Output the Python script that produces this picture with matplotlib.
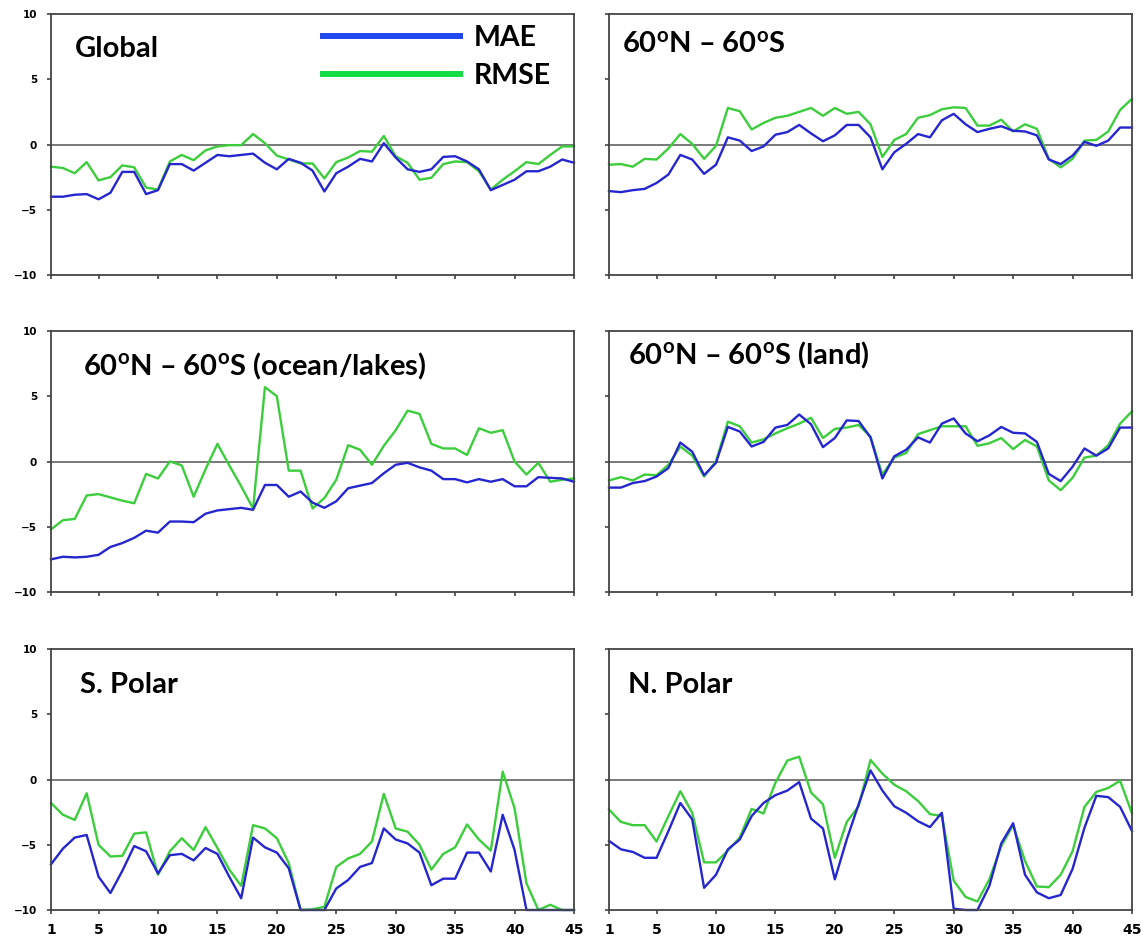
import numpy as np
import matplotlib
matplotlib.use("Agg")
import matplotlib.pyplot as plt
from matplotlib.lines import Line2D

# forecast day on the x axis
days = np.arange(1, 46)
x_ticks = [1, 5, 10, 15, 20, 25, 30, 35, 40, 45]
y_ticks = [-10, -5, 0, 5, 10]

global_mae = [-4.0, -4.0, -3.85, -3.8, -4.2, -3.7, -2.1, -2.1, -3.8, -3.5,
              -1.5, -1.5, -2.0, -1.4, -0.8, -0.9, -0.8, -0.7, -1.4, -1.9,
              -1.1, -1.4, -2.0, -3.6, -2.2, -1.7, -1.1, -1.3, 0.1, -1.0,
              -1.9, -2.1, -1.9, -0.95, -0.9, -1.3, -1.9, -3.5, -3.1, -2.7,
              -2.05, -2.05, -1.7, -1.15, -1.4]
global_rmse = [-1.7, -1.8, -2.2, -1.35, -2.75, -2.5, -1.6, -1.75, -3.3, -3.45,
               -1.3, -0.8, -1.2, -0.45, -0.15, -0.05, -0.05, 0.8, 0.1, -0.85,
               -1.15, -1.45, -1.45, -2.6, -1.35, -1.0, -0.5, -0.55, 0.65, -0.9,
               -1.4, -2.7, -2.55, -1.5, -1.3, -1.35, -2.05, -3.45, -2.7, -2.05,
               -1.35, -1.5, -0.8, -0.15, -0.15]

tropics_mae = [-3.57, -3.65, -3.5, -3.4, -2.95, -2.3, -0.8, -1.15, -2.25, -1.55,
               0.55, 0.3, -0.5, -0.15, 0.75, 0.95, 1.5, 0.85, 0.25, 0.7,
               1.5, 1.5, 0.55, -1.9, -0.6, 0.05, 0.8, 0.55, 1.85, 2.35,
               1.55, 0.95, 1.2, 1.4, 1.05, 1.0, 0.7, -1.15, -1.5, -0.85,
               0.2, -0.1, 0.3, 1.3, 1.3]
tropics_rmse = [-1.55, -1.5, -1.7, -1.1, -1.15, -0.3, 0.8, 0.05, -1.1, -0.1,
                2.8, 2.55, 1.15, 1.65, 2.05, 2.2, 2.5, 2.8, 2.2, 2.8,
                2.35, 2.5, 1.55, -0.95, 0.35, 0.8, 2.05, 2.25, 2.7, 2.85,
                2.8, 1.45, 1.45, 1.9, 1.0, 1.55, 1.2, -1.1, -1.75, -1.1,
                0.3, 0.35, 1.0, 2.65, 3.5]

ocean_mae = [-7.5, -7.3, -7.35, -7.3, -7.15, -6.55, -6.25, -5.85, -5.3, -5.45,
             -4.6, -4.6, -4.65, -4.0, -3.75, -3.65, -3.55, -3.7, -1.8, -1.8,
             -2.7, -2.3, -3.15, -3.55, -3.05, -2.05, -1.85, -1.65, -0.9, -0.25,
             -0.1, -0.45, -0.7, -1.35, -1.35, -1.6, -1.35, -1.55, -1.35, -1.9,
             -1.9, -1.2, -1.25, -1.3, -1.55]
ocean_rmse = [-5.2, -4.5, -4.4, -2.6, -2.5, -2.75, -3.0, -3.2, -0.95, -1.3,
              0.0, -0.3, -2.7, -0.6, 1.35, -0.3, -1.9, -3.6, 5.7, 5.0,
              -0.7, -0.7, -3.6, -2.8, -1.4, 1.25, 0.9, -0.25, 1.2, 2.4,
              3.9, 3.65, 1.35, 1.0, 1.0, 0.5, 2.55, 2.2, 2.4, 0.0,
              -1.0, -0.1, -1.55, -1.4, -1.3]

land_mae = [-2.0, -2.0, -1.65, -1.5, -1.15, -0.5, 1.45, 0.75, -1.05, -0.1,
            2.65, 2.3, 1.15, 1.5, 2.6, 2.8, 3.6, 2.85, 1.1, 1.8,
            3.15, 3.1, 1.85, -1.3, 0.4, 0.9, 1.85, 1.45, 2.9, 3.3,
            2.15, 1.55, 2.0, 2.65, 2.2, 2.15, 1.5, -0.95, -1.5, -0.4,
            1.0, 0.45, 1.0, 2.6, 2.6]
land_rmse = [-1.45, -1.2, -1.45, -1.0, -1.05, -0.25, 1.15, 0.45, -1.15, 0.0,
             3.05, 2.7, 1.45, 1.7, 2.15, 2.55, 2.9, 3.35, 1.8, 2.5,
             2.6, 2.8, 1.9, -1.0, 0.3, 0.65, 2.1, 2.4, 2.7, 2.7,
             2.7, 1.2, 1.4, 1.8, 0.95, 1.65, 1.15, -1.45, -2.2, -1.25,
             0.3, 0.45, 1.25, 2.9, 3.85]

spolar_mae = [-6.5, -5.3, -4.45, -4.25, -7.45, -8.7, -7.0, -5.1, -5.5, -7.2,
              -5.8, -5.7, -6.2, -5.25, -5.7, -7.45, -9.1, -4.45, -5.2, -5.6,
              -6.8, -10.0, -10.0, -10.0, -8.35, -7.7, -6.7, -6.4, -3.75, -4.6,
              -4.9, -5.6, -8.1, -7.6, -7.6, -5.6, -5.6, -7.05, -2.7, -5.4,
              -10.0, -10.0, -10.0, -10.0, -10.0]
spolar_rmse = [-1.8, -2.7, -3.1, -1.05, -5.0, -5.9, -5.85, -4.15, -4.05, -7.3,
               -5.5, -4.5, -5.4, -3.65, -5.25, -6.9, -8.15, -3.5, -3.75, -4.5,
               -6.4, -10.0, -9.95, -9.75, -6.7, -6.05, -5.7, -4.75, -1.1, -3.75,
               -4.0, -5.0, -6.9, -5.7, -5.2, -3.45, -4.6, -5.45, 0.6, -2.2,
               -7.95, -10.0, -9.6, -10.0, -10.0]

npolar_mae = [-4.7, -5.35, -5.55, -6.0, -6.0, -3.95, -1.8, -3.05, -8.3, -7.3,
              -5.35, -4.6, -2.8, -1.8, -1.2, -0.85, -0.2, -3.0, -3.75, -7.65,
              -4.6, -1.9, 0.7, -0.85, -2.05, -2.55, -3.2, -3.65, -2.55, -9.9,
              -10.0, -10.0, -8.15, -4.9, -3.35, -7.3, -8.65, -9.1, -8.85, -6.85,
              -3.7, -1.25, -1.35, -2.1, -3.95]
npolar_rmse = [-2.3, -3.25, -3.5, -3.5, -4.75, -2.8, -0.9, -2.55, -6.35, -6.35,
               -5.45, -4.45, -2.25, -2.6, -0.25, 1.45, 1.75, -1.0, -1.9, -6.0,
               -3.25, -2.05, 1.5, 0.45, -0.4, -0.9, -1.65, -2.65, -2.8, -7.75,
               -9.0, -9.35, -7.65, -5.1, -3.5, -6.25, -8.2, -8.25, -7.3, -5.5,
               -2.1, -0.95, -0.65, -0.1, -2.6]

titles = ["Global",
          "60$^{o}$N \u2013 60$^{o}$S",
          "60$^{o}$N \u2013 60$^{o}$S (ocean/lakes)",
          "60$^{o}$N \u2013 60$^{o}$S (land)",
          "S. Polar",
          "N. Polar"]

MAE_COLOR = "#2626cf"
RMSE_COLOR = "#3ccd3c"
TITLE_FONT = ["Lato", "DejaVu Sans"]


def setup_fonts():
    """Bold humanist font for the panel titles, superscripts included."""
    plt.rcParams["mathtext.fontset"] = "custom"
    plt.rcParams["mathtext.rm"] = "Lato:bold"
    plt.rcParams["mathtext.it"] = "Lato:bold"
    plt.rcParams["mathtext.bf"] = "Lato:bold"
    plt.rcParams["mathtext.default"] = "rm"


def draw_panel(ax, title, mae, rmse, title_xy, xlabels, ylabels):
    """One region: MAE and RMSE bias curves over the 45 days."""
    ax.axhline(0, color="#555555", lw=1.1, zorder=1)
    # values sit on -10 where the curve is off the scale, keep them visible
    ax.plot(days, rmse, color=RMSE_COLOR, lw=1.7, zorder=2, clip_on=False)
    ax.plot(days, mae, color=MAE_COLOR, lw=1.7, zorder=3, clip_on=False)

    ax.set_xlim(1, 45)
    ax.set_ylim(-10, 10)
    ax.set_xticks(x_ticks)
    ax.set_yticks(y_ticks)
    ax.tick_params(direction="out", length=3, width=1.1, color="#333333")
    ax.tick_params(axis="x", labelsize=10, pad=6)
    ax.tick_params(axis="y", labelsize=7.5, pad=7)
    for lab in ax.get_xticklabels() + ax.get_yticklabels():
        lab.set_fontweight("bold")
    if not xlabels:
        ax.set_xticklabels([])
    if not ylabels:
        ax.set_yticklabels([])
    for sp in ax.spines.values():
        sp.set_color("#444444")
        sp.set_linewidth(1.3)
        sp.set_zorder(4)

    ax.text(title_xy[0], title_xy[1], title, transform=ax.transAxes,
            family=TITLE_FONT, fontweight="bold", fontsize=21,
            ha="left", va="baseline")


def main():
    setup_fonts()
    fig = plt.figure(figsize=(11.43, 9.40), dpi=100)

    W, H = 1143, 940
    col_left = [51, 609]
    col_width = 523
    row_top = [14, 331, 649]
    row_height = 261

    series = [(global_mae, global_rmse), (tropics_mae, tropics_rmse),
              (ocean_mae, ocean_rmse), (land_mae, land_rmse),
              (spolar_mae, spolar_rmse), (npolar_mae, npolar_rmse)]
    title_pos = [(0.046, 0.835), (0.024, 0.854), (0.061, 0.831),
                 (0.036, 0.870), (0.055, 0.831), (0.036, 0.831)]

    axes = []
    for k in range(6):
        r, c = divmod(k, 2)
        rect = [col_left[c] / W, 1 - (row_top[r] + row_height) / H,
                col_width / W, row_height / H]
        ax = fig.add_axes(rect)
        draw_panel(ax, titles[k], series[k][0], series[k][1], title_pos[k],
                   xlabels=(r == 2), ylabels=(c == 0))
        axes.append(ax)

    handles = [Line2D([], [], color="#1f48ee", lw=4.3),
               Line2D([], [], color="#12dd44", lw=4.3)]
    axes[0].legend(handles, ["MAE", "RMSE"], loc="upper left",
                   bbox_to_anchor=(0.52, 0.958), frameon=False,
                   prop={"family": TITLE_FONT, "weight": "bold", "size": 20.5},
                   handlelength=4.8, handletextpad=0.5, labelspacing=0.43,
                   borderpad=0, borderaxespad=0)

    fig.savefig("out.png", dpi=100)


if __name__ == "__main__":
    main()
